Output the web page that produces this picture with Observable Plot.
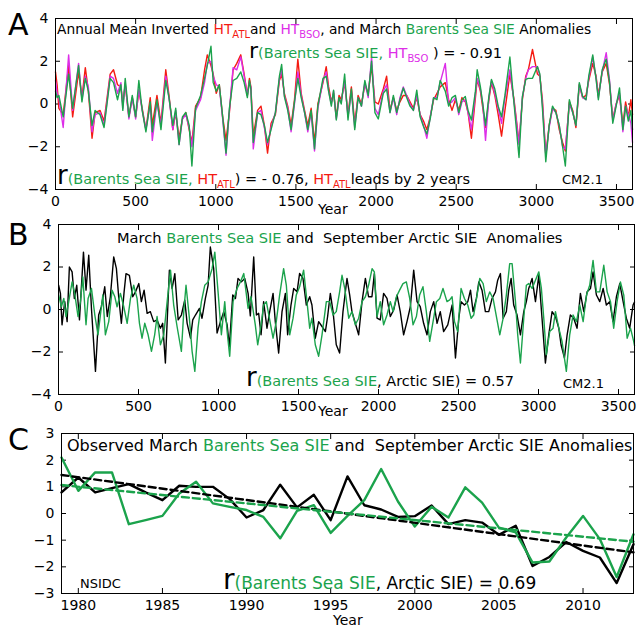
<!DOCTYPE html>
<html><head><meta charset="utf-8">
<script src="https://cdn.jsdelivr.net/npm/d3@7"></script>
<script src="https://cdn.jsdelivr.net/npm/@observablehq/plot@0.6"></script>
<style>
body{margin:0;background:#fff;}
#root{position:relative;width:637px;height:627px;overflow:hidden;background:#fff;}
#root svg{position:absolute;left:0;}
</style></head><body><div id="root"></div>
<script>
// ---------- Panel A: model years and anomalies (CM2.1) ----------
const yearsA = [
0,10,21,48,82,107,144,165,186,205,
228,247,278,303,341,362,387,408,420,435,
458,479,500,520,541,564,591,604,633,658,
688,708,732,750,771,792,813,834,851,874,
905,930,947,970,984,1003,1022,1043,1064,1085,
1108,1131,1156,1177,1197,1210,1219,1234,1261,1282,
1303,1323,1345,1372,1397,1411,1428,1449,1470,1491,
1512,1533,1554,1574,1595,1616,1637,1669,1689,1704,
1721,1735,1752,1769,1783,1804,1825,1846,1867,1888,
1909,1930,1951,1972,1993,2014,2045,2066,2087,2108,
2129,2149,2170,2191,2212,2233,2254,2275,2296,2317,
2338,2359,2380,2400,2432,2453,2474,2495,2516,2536,
2557,2574,2595,2620,2631,2651,2666,2683,2704,2720,
2741,2762,2783,2804,2835,2861,2892,2913,2934,2950,
2976,3007,3022,3038,3059,3080,3101,3122,3143,3164,
3181,3206,3227,3247,3268,3289,3310,3327,3352,3373,
3387,3411,3436,3457,3477,3498,3519,3540,3557,3574,
3590,3600];
const barentsA = [
0.6,0.3,0.4,-0.6,1.4,-0.2,1.8,0.1,1.2,0.6,
-1.0,-0.3,-0.5,-1.1,1.2,1.0,0.2,0.9,-0.3,1.2,
-0.6,0.4,-0.6,1.1,-0.3,-1.3,0.1,-1.3,0.2,-1.2,
1.1,0.3,-1.0,-0.2,-1.9,-0.6,-0.4,-1.0,-2.9,-0.2,
0.4,1.2,1.8,2.7,1.0,0.6,0.9,-0.6,-2.3,-0.2,
1.1,1.2,1.5,1.0,0.3,1.1,0.7,-1.8,-0.4,-0.5,
-1.0,-1.8,-1.2,-0.4,1.3,1.85,0.35,-0.3,-1.2,0.1,
1.2,0.3,-0.4,-1.2,-0.3,-2.1,-0.1,1.2,1.3,0.6,
-0.1,0.65,-0.75,0.3,0.0,1.4,-0.75,0.7,-1.2,0.3,
-0.1,1.1,0.4,2.0,-0.4,-0.7,0.5,0.7,-0.4,0.4,
-0.4,0.2,0.75,0.3,-0.1,-0.3,0.65,-0.6,-1.05,-1.4,
-0.7,0.3,0.2,1.1,0.6,-0.1,0.3,0.4,-0.4,0.2,
0.35,-0.3,-0.75,0.6,1.6,0.8,0.0,-1.0,0.35,1.15,
0.7,-0.1,-0.6,0.4,2.2,0.0,-2.5,0.35,1.15,1.2,
1.2,1.75,1.4,-0.2,-2.7,-1.0,-0.1,-0.4,-1.0,-2.0,
-2.9,0.2,-0.4,-1.0,1.0,0.35,0.2,1.3,2.3,1.15,
0.2,1.6,2.1,1.0,-0.9,-0.1,0.75,-1.2,-0.1,-0.8,
-0.3,-1.2];
const htAtl = [
1.5,0.9,-0.2,-0.5,1.8,-0.6,1.5,0.3,1.7,0.6,
-1.6,-0.4,-0.3,-0.8,1.4,1.6,0.9,0.8,0.0,0.9,
-0.6,0.3,-0.6,0.6,-0.2,-1.2,0.3,-1.0,0.4,-0.9,
1.6,0.4,-1.2,-0.4,-1.6,-0.7,-0.4,-1.2,-1.8,-0.1,
0.3,1.6,2.3,1.8,1.4,0.5,0.9,-0.6,-1.7,-0.4,
1.6,1.9,2.3,1.4,0.4,1.2,0.8,-1.5,-0.3,-0.1,
-1.0,-2.3,-0.9,-0.5,1.1,1.4,0.5,-0.1,-1.0,0.2,
2.1,0.5,-0.3,-1.0,-0.2,-1.8,0.0,1.0,1.75,0.8,
0.1,0.5,-0.6,0.4,0.2,1.0,-0.5,0.8,-0.9,0.4,
0.0,0.9,0.5,1.8,0.1,0.0,0.7,1.3,-0.3,0.3,
-0.3,0.1,0.4,0.4,0.1,-0.2,0.3,-0.5,-0.8,-1.2,
-0.6,0.2,0.5,0.8,1.0,0.2,-0.3,0.2,-0.3,0.3,
0.1,-0.4,-1.6,0.3,1.15,0.6,-0.2,-1.1,0.2,1.0,
0.4,-0.5,-1.5,-0.3,1.4,0.2,-1.8,0.2,1.3,1.6,
2.55,1.4,1.3,0.2,-2.4,-1.0,-0.2,-0.3,-1.2,-1.8,
-2.2,0.1,-0.3,-1.1,0.9,0.3,0.4,1.1,1.9,1.3,
0.4,1.5,1.9,0.9,-0.7,0.0,0.4,-1.0,0.1,-0.6,
0.2,-0.5];
const htBso = [
1.1,0.5,0.3,-1.1,2.3,-0.3,1.9,0.2,1.3,0.8,
-1.3,-0.5,-0.4,-1.0,1.3,1.2,0.5,1.0,-0.2,1.0,
-0.7,0.3,-0.7,0.7,-0.3,-1.2,0.0,-1.7,0.1,-1.0,
1.3,0.3,-1.2,-0.3,-1.9,-0.7,-0.5,-1.1,-2.0,-0.3,
0.2,1.0,1.9,2.0,1.3,0.9,0.8,-0.7,-2.4,-0.3,
1.7,1.6,2.2,1.3,0.4,1.0,0.8,-2.1,-0.4,-0.3,
-1.1,-1.9,-1.1,-0.4,1.2,1.6,0.4,-0.2,-1.3,0.0,
1.5,0.4,-0.4,-1.3,-0.4,-2.2,-0.2,1.1,1.5,0.6,
0.0,0.6,-0.7,0.2,0.1,1.1,-0.6,0.6,-1.1,0.3,
-0.1,1.0,0.3,2.2,-0.2,-0.5,0.6,0.9,-0.4,0.3,
-0.5,0.3,0.8,0.4,0.0,-0.3,0.4,-0.5,-1.0,-1.6,
-0.6,0.3,0.3,1.0,1.9,0.0,0.1,0.3,-0.5,0.1,
0.2,-0.4,-1.2,0.5,1.2,0.7,0.0,-1.7,0.3,1.1,
0.5,-0.2,-0.9,0.3,1.6,0.1,-1.9,0.3,1.2,1.6,
1.75,1.75,1.3,0.0,-2.4,-1.1,-0.2,-0.4,-1.0,-2.0,
-2.1,0.0,-0.4,-1.0,0.9,0.3,0.2,1.2,2.2,1.2,
0.3,1.5,2.4,1.1,-0.8,0.0,0.5,-1.3,-0.1,-0.5,
-0.9,-1.8];

// ---------- Panel B: [year, anomaly] pairs ----------
const arcticB = [[1,1.14],[12,0.76],[22,-0.72],[39,0.37],[54,-0.57],[68,2.00],[85,1.77],[99,0.52],[114,1.14],[131,-0.49],[156,2.70],[172,0.91],[189,2.55],[206,0.05],[231,-2.91],[251,-0.26],[268,0.13],[289,1.07],[305,-0.33],[324,0.60],[345,2.47],[362,1.92],[377,0.52],[393,-0.65],[410,0.83],[422,1.69],[443,1.61],[464,0.60],[481,0.83],[502,1.22],[518,0.37],[535,0.91],[554,-0.18],[574,-0.10],[595,-0.57],[616,-0.49],[637,-0.88],[651,-0.65],[668,-2.52],[693,1.85],[710,0.99],[727,1.69],[748,-0.49],[768,-0.26],[789,0.44],[804,-0.65],[825,-1.35],[839,-0.49],[856,-0.26],[881,0.05],[897,-0.41],[918,0.52],[935,1.14],[949,2.94],[970,1.92],[991,-1.11],[1012,-0.57],[1033,-0.10],[1054,-0.72],[1068,-1.74],[1089,0.68],[1106,0.52],[1122,1.46],[1143,1.30],[1164,1.46],[1185,0.76],[1199,-0.30],[1220,2.47],[1237,-0.26],[1251,-0.18],[1266,-1.19],[1282,0.37],[1303,-0.88],[1320,-0.10],[1341,0.76],[1355,-0.57],[1376,-2.05],[1397,-0.10],[1418,0.76],[1432,-1.19],[1453,0.21],[1470,0.99],[1491,0.83],[1507,1.70],[1528,1.46],[1549,0.21],[1570,0.60],[1584,0.21],[1605,-1.35],[1626,-0.57],[1647,-0.80],[1668,-1.04],[1682,-0.33],[1699,0.76],[1716,-0.10],[1736,-1.66],[1757,-2.05],[1778,-0.10],[1803,1.46],[1820,0.68],[1834,-0.10],[1855,-0.65],[1876,-1.19],[1897,0.37],[1918,1.46],[1938,0.60],[1959,0.60],[1974,1.69],[1991,-0.41],[2011,-0.49],[2032,0.76],[2053,0.52],[2074,-0.33],[2095,-0.02],[2116,0.68],[2136,-0.10],[2157,-1.19],[2178,-0.57],[2199,0.13],[2220,1.85],[2241,0.37],[2261,0.13],[2282,-0.65],[2303,-1.19],[2324,-0.10],[2345,0.37],[2366,-0.65],[2386,-0.10],[2407,-1.04],[2433,-0.72],[2460,0.21],[2481,-2.28],[2502,-0.41],[2516,0.37],[2537,0.21],[2558,0.37],[2575,0.91],[2591,-0.10],[2612,0.52],[2627,1.30],[2647,0.91],[2668,-0.10],[2689,-0.10],[2710,0.52],[2731,0.83],[2745,1.38],[2762,1.69],[2779,-0.41],[2799,-0.10],[2814,0.91],[2829,1.46],[2845,0.21],[2866,-0.26],[2887,-1.19],[2908,-0.10],[2924,0.37],[2939,0.99],[2960,1.46],[2981,0.37],[3002,1.61],[3022,-0.41],[3043,-2.52],[3064,-1.19],[3085,-0.10],[3106,-0.33],[3127,-0.88],[3141,-1.66],[3162,-2.28],[3179,-1.19],[3199,-0.26],[3220,-0.41],[3241,-0.88],[3262,0.76],[3283,-0.10],[3304,0.83],[3325,0.99],[3341,1.77],[3362,0.68],[3383,0.37],[3404,0.99],[3424,0.21],[3445,0.37],[3466,-0.57],[3487,0.60],[3508,1.22],[3529,0.37],[3549,-0.41],[3570,-0.88],[3591,0.21],[3600,0.35]];
const barentsB = [[1,0.68],[18,0.13],[33,0.52],[47,-0.33],[64,0.37],[85,1.30],[101,0.76],[122,-0.33],[137,0.37],[152,1.53],[172,-0.72],[185,0.52],[206,0.99],[227,-0.26],[247,-1.19],[262,-0.26],[277,0.68],[293,-1.19],[314,-0.57],[335,0.91],[352,0.60],[366,0.13],[387,0.76],[408,0.13],[429,-0.65],[450,0.52],[470,1.14],[491,0.52],[506,-0.65],[522,-1.35],[539,-0.65],[560,-1.19],[581,-1.97],[601,-1.19],[616,-0.33],[637,-1.66],[658,-1.19],[679,0.37],[700,1.85],[720,0.21],[741,-0.80],[768,-1.97],[783,-0.10],[797,1.14],[818,-0.41],[835,-1.97],[852,-2.91],[872,-0.88],[893,0.37],[914,1.14],[935,1.30],[960,1.92],[977,2.70],[998,0.76],[1018,-1.19],[1039,0.37],[1054,-1.04],[1070,-2.20],[1091,0.37],[1116,0.99],[1137,1.30],[1158,1.69],[1185,0.05],[1203,0.60],[1216,-0.02],[1230,-0.72],[1245,-1.66],[1266,-0.72],[1282,0.21],[1299,0.37],[1320,-0.49],[1341,-1.35],[1361,-0.57],[1382,0.68],[1407,1.92],[1424,1.14],[1445,-1.19],[1466,-0.41],[1486,0.68],[1507,1.07],[1532,1.85],[1553,0.37],[1570,-0.88],[1584,-0.41],[1605,-1.66],[1626,-2.20],[1647,-1.19],[1674,0.37],[1695,0.37],[1716,-0.26],[1736,-0.10],[1757,0.83],[1772,1.61],[1789,0.99],[1814,-0.41],[1834,-0.10],[1855,-0.72],[1876,-0.41],[1897,0.37],[1918,0.60],[1938,1.14],[1960,1.92],[1974,1.77],[1991,-0.33],[2011,0.37],[2032,-0.72],[2053,-0.26],[2074,0.37],[2091,-0.10],[2112,0.60],[2132,0.91],[2153,1.22],[2174,1.30],[2195,0.52],[2216,-0.72],[2237,-0.33],[2257,0.68],[2278,1.07],[2299,-0.10],[2320,-1.50],[2341,-0.57],[2362,0.37],[2383,0.52],[2403,0.99],[2428,0.37],[2445,0.45],[2460,0.60],[2475,-0.57],[2495,-1.04],[2516,0.99],[2537,0.52],[2558,0.21],[2579,-0.41],[2595,-0.26],[2616,0.68],[2633,1.46],[2654,1.22],[2674,0.37],[2695,0.83],[2716,0.52],[2737,-0.33],[2758,-1.19],[2779,-0.41],[2799,0.68],[2820,2.16],[2835,2.16],[2856,0.37],[2870,-1.19],[2887,-2.52],[2908,-0.41],[2924,1.14],[2939,1.22],[2960,0.99],[2981,1.38],[3002,1.77],[3018,0.99],[3033,-0.41],[3049,-2.13],[3070,-1.04],[3091,-0.88],[3106,-0.10],[3127,-0.88],[3147,-1.50],[3174,-2.91],[3195,-1.19],[3216,-0.26],[3237,-0.57],[3258,0.21],[3279,-0.57],[3300,0.68],[3320,1.14],[3341,2.31],[3362,0.83],[3383,0.83],[3408,2.08],[3429,0.83],[3450,0.37],[3470,-0.88],[3491,0.37],[3512,1.30],[3533,0.68],[3554,-1.35],[3575,-0.88],[3595,-1.50],[3600,-1.70]];

// ---------- Panel C: observed (NSIDC) ----------
const yearsC = [1979,1980,1981,1982,1983,1984,1985,1986,1987,1988,1989,1990,1991,1992,1993,1994,1995,1996,1997,1998,1999,2000,2001,2002,2003,2004,2005,2006,2007,2008,2009,2010,2011,2012,2013];
const arcticC = [0.79,1.35,0.79,0.95,1.10,0.79,0.50,1.04,1.0,1.0,0.54,-0.15,0.13,1.08,0.23,0.70,-0.25,1.39,0.31,0.15,-0.13,-0.10,0.30,-0.40,-0.25,-0.34,-0.80,-0.46,-1.97,-1.63,-1.07,-1.40,-1.65,-2.61,-1.15];
const barentsC = [2.1,0.85,1.54,1.54,-0.40,-0.25,-0.09,0.75,1.19,0.38,0.25,0.13,-0.13,-0.93,0.10,0.31,-0.73,-0.09,0.50,1.67,0.45,-0.49,0.25,-0.15,0.98,0.41,-0.53,-0.71,-1.84,-1.80,-0.90,-0.09,-0.96,-2.38,-0.78];

// ---------- tick labels ----------
const modelYearTicks = [0,500,1000,1500,2000,2500,3000,3500];
const modelAnomTicks = [-4,-2,0,2,4];
const obsYearTicks = [1980,1985,1990,1995,2000,2005,2010];
const obsAnomTicks = [-3,-2,-1,0,1,2,3];

const FONT = '"DejaVu Sans", sans-serif';
const RED = "#f41b12", MAG = "#dd2ee8", GRN = "#1ba34c";
const fmtY = d => d < 0 ? "\u2212" + (-d) : String(d);
const blank = () => "";

function axes(xt, yt) {
  return [
    Plot.axisX(xt, {anchor: "bottom", tickSize: 0, tickPadding: 7, tickFormat: d => String(d), label: null}),
    Plot.axisX(xt, {anchor: "bottom", tickSize: -5, tickFormat: blank, label: null}),
    Plot.axisX(xt, {anchor: "top", tickSize: -5, tickFormat: blank, label: null}),
    Plot.axisY(yt, {anchor: "left", tickSize: 0, tickPadding: 7, tickFormat: fmtY, label: null}),
    Plot.axisY(yt, {anchor: "left", tickSize: -5, tickFormat: blank, label: null}),
    Plot.axisY(yt, {anchor: "right", tickSize: -5, tickFormat: blank, label: null})
  ];
}
const style = {fontFamily: FONT, fontSize: "14px", color: "#000", background: "transparent", overflow: "visible"};
const root = document.getElementById("root");

const dataA = yearsA.map((y, i) => ({year: y, atl: htAtl[i], bso: htBso[i], bar: barentsA[i]}));
const pA = Plot.plot({
  width: 637, height: 215, marginTop: 18, marginRight: 5, marginBottom: 26, marginLeft: 55, style,
  x: {domain: [0, 3600]}, y: {domain: [-4, 4]},
  marks: [
    ...axes(modelYearTicks, modelAnomTicks),
    Plot.line(dataA, {x: "year", y: "atl", stroke: RED, strokeWidth: 1.4}),
    Plot.line(dataA, {x: "year", y: "bso", stroke: MAG, strokeWidth: 1.4}),
    Plot.line(dataA, {x: "year", y: "bar", stroke: GRN, strokeWidth: 1.4}),
    Plot.frame({stroke: "#000"})
  ]
});
pA.style.top = "0px";
root.appendChild(pA);

const pB = Plot.plot({
  width: 637, height: 205, marginTop: 9, marginRight: 3, marginBottom: 26, marginLeft: 58, style,
  x: {domain: [0, 3600]}, y: {domain: [-4, 4]},
  marks: [
    ...axes(modelYearTicks, modelAnomTicks),
    Plot.line(arcticB, {x: d => d[0], y: d => d[1], stroke: "#000", strokeWidth: 1.4}),
    Plot.line(barentsB, {x: d => d[0], y: d => d[1], stroke: GRN, strokeWidth: 1.4}),
    Plot.frame({stroke: "#000"})
  ]
});
pB.style.top = "215px";
root.appendChild(pB);

const dataC = yearsC.map((y, i) => ({year: y, arc: arcticC[i], bar: barentsC[i]}));
const pC = Plot.plot({
  width: 637, height: 207, marginTop: 13, marginRight: 4, marginBottom: 34, marginLeft: 61, style,
  x: {domain: [1979, 2013]}, y: {domain: [-3, 3]},
  marks: [
    ...axes(obsYearTicks, obsAnomTicks),
    Plot.line(dataC, {x: "year", y: "arc", stroke: "#000", strokeWidth: 2.4}),
    Plot.line(dataC, {x: "year", y: "bar", stroke: GRN, strokeWidth: 2.4}),
    Plot.linearRegressionY(dataC, {x: "year", y: "arc", stroke: "#000", strokeWidth: 2.4, strokeDasharray: "7,4", ci: 0}),
    Plot.linearRegressionY(dataC, {x: "year", y: "bar", stroke: GRN, strokeWidth: 2.4, strokeDasharray: "7,4", ci: 0}),
    Plot.frame({stroke: "#000"})
  ]
});
pC.style.top = "420px";
root.appendChild(pC);

// ---------- annotation text overlay ----------
const ov = d3.create("svg").attr("width", 637).attr("height", 627)
  .attr("font-family", FONT).style("top", "0px").style("pointer-events", "none");
function rich(x, y, size, parts, bigSize = 24) {
  const t = ov.append("text").attr("x", x).attr("y", y).attr("font-size", size).style("white-space", "pre");
  let cur = 0;
  for (const [txt, col = "#000", kind] of parts) {
    const s = t.append("tspan").text(txt).attr("fill", col);
    let off = 0;
    if (kind === "sub") { s.attr("font-size", 10); off = 4; }
    if (kind === "big") s.attr("font-size", bigSize);
    if (off !== cur) { s.attr("dy", off - cur); cur = off; }
  }
}
rich(57, 34, 13.8, [["Annual Mean Inverted "], ["HT", RED], ["ATL", RED, "sub"], ["and "], ["HT", MAG], ["BSO", MAG, "sub"], [", and March "], ["Barents Sea SIE", GRN], [" Anomalies"]]);
rich(249, 58, 14.5, [["r", "#000", "big"], ["(Barents Sea SIE, ", GRN], ["HT", MAG], ["BSO", MAG, "sub"], [" ) = - 0.91"]], 22);
rich(57, 184, 14.5, [["r", "#000", "big"], ["(Barents Sea SIE, ", GRN], ["HT", RED], ["ATL", RED, "sub"], [") = - 0.76, "], ["HT", RED], ["ATL", RED, "sub"], ["leads by 2 years"]], 26);
rich(562, 184, 13, [["CM2.1"]]);
rich(117, 243, 14.6, [["March "], ["Barents Sea SIE", GRN], [" and  September Arctic SIE  Anomalies"]]);
rich(246, 386, 14.5, [["r", "#000", "big"], ["(Barents Sea SIE", GRN], [", Arctic SIE) = 0.57"]], 26);
rich(563, 388, 13, [["CM2.1"]]);
rich(67, 451, 16, [["Observed March "], ["Barents Sea SIE", GRN], [" and  September Arctic SIE Anomalies"]]);
rich(80, 588, 13, [["NSIDC"]]);
rich(223, 589, 17, [["r", "#000", "big"], ["(Barents Sea SIE", GRN], [", Arctic SIE) = 0.69"]], 28);
rich(8, 35, 30, [["A"]]);
rich(8, 245, 30, [["B"]]);
rich(8, 450, 30, [["C"]]);
rich(318, 214, 14, [["Year"]]);
rich(318, 416, 14, [["Year"]]);
rich(333, 625, 14, [["Year"]]);
root.appendChild(ov.node());
</script></body></html>
